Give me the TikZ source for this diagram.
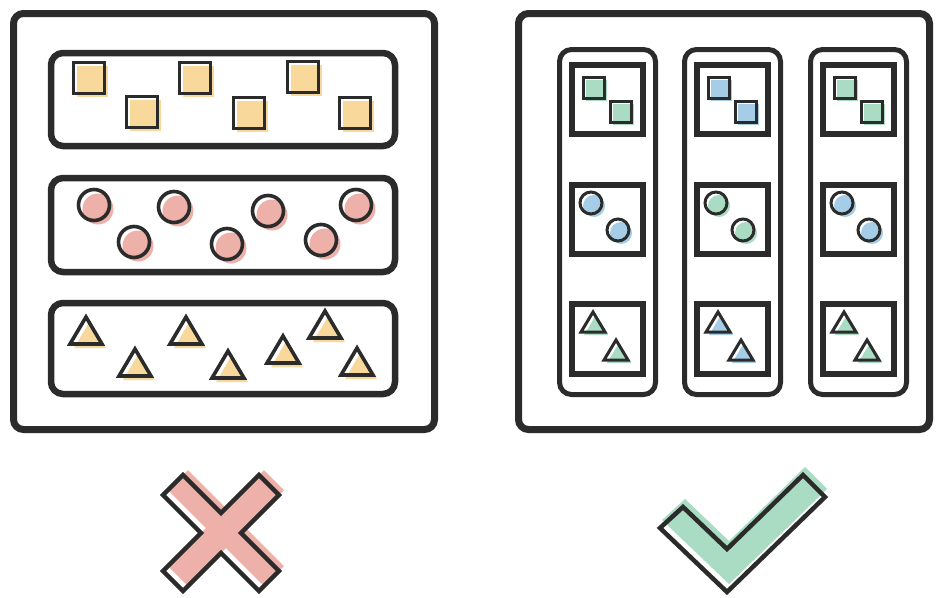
\documentclass[tikz,border=0pt]{standalone}
\definecolor{ink}{HTML}{2B2B2B}
\definecolor{yel}{HTML}{F9D99B}
\definecolor{pnk}{HTML}{EDB1AA}
\definecolor{grn}{HTML}{A9DCC2}
\definecolor{blu}{HTML}{A6CDE7}
\tikzset{
  bigbox/.style={draw=ink,line width=7pt,rounded corners=10pt},
  rowbox/.style={draw=ink,line width=6.5pt,rounded corners=12pt},
  colbox/.style={draw=ink,line width=5pt,rounded corners=12pt},
  cellbox/.style={draw=ink,line width=6pt},
  shp/.style={draw=ink,line width=3.6pt,line join=miter},
  sshp/.style={draw=ink,line width=3pt},
  signline/.style={draw=ink,line width=4.5pt,line join=miter}
}
\newcommand\bigsq[2]{\begin{scope}[shift={(#1,#2)}]\fill[yel] (-12,-12) rectangle (19,19);\draw[shp] (-15.5,-15.5) rectangle (15.5,15.5);\end{scope}}
\newcommand\bigci[2]{\begin{scope}[shift={(#1,#2)}]\fill[pnk] (4,4) circle (15.5);\draw[shp] (0,0) circle (15.5);\end{scope}}
\newcommand\bigtri[2]{\begin{scope}[shift={(#1,#2)}]\fill[yel] (4,-10) -- (-12,17) -- (20,17) -- cycle;\draw[shp] (0,-14) -- (-16,13) -- (16,13) -- cycle;\end{scope}}
\newcommand\smsq[3]{\begin{scope}[shift={(#1,#2)}]\fill[#3] (-7.5,-7.5) rectangle (13.5,13.5);\draw[sshp] (-10.5,-10.5) rectangle (10.5,10.5);\end{scope}}
\newcommand\smci[3]{\begin{scope}[shift={(#1,#2)}]\fill[#3] (3,3) circle (11);\draw[sshp] (0,0) circle (11);\end{scope}}
\newcommand\smtri[3]{\begin{scope}[shift={(#1,#2)}]\fill[#3] (3,-7) -- (-9,13) -- (15,13) -- cycle;\draw[sshp] (0,-10) -- (-12,10) -- (12,10) -- cycle;\end{scope}}
\newcommand\column[4]{\begin{scope}[shift={(#1,0)}]
  \draw[colbox] (2.5,49.5) rectangle (98.5,394.5);
  \draw[cellbox] (15,65) rectangle (86,134);
  \draw[cellbox] (15,185) rectangle (86,254);
  \draw[cellbox] (15,304) rectangle (86,374);
  \smsq{36.5}{87.5}{#2}\smsq{63.5}{111.5}{#2}
  \smci{34}{203}{#3}\smci{61}{230}{#3}
  \smtri{36}{322}{#4}\smtri{59}{350}{#4}
\end{scope}}
\begin{document}
\begin{tikzpicture}[x=1pt,y=-1pt]
\useasboundingbox (0,0) rectangle (936,597);
\fill[white] (0,0) rectangle (936,597);
% left panel
\draw[bigbox] (13.5,13.5) rectangle (434.5,429.5);
\draw[rowbox] (51,53) rectangle (395,146);
\draw[rowbox] (51,178) rectangle (395,272);
\draw[rowbox] (51,303) rectangle (395,394);
\foreach \x/\y in {89/78,142/112,195/78,249/113,303/77,355/113} {\bigsq{\x}{\y}}
\foreach \x/\y in {94/205,134/242,174/207,227/244,268/211,321/240,356/205} {\bigci{\x}{\y}}
\foreach \x/\y in {86/331,135/363,186/331,228/365,283/350,325/325,357/362} {\bigtri{\x}{\y}}
% right panel
\draw[bigbox] (518.5,13.5) rectangle (929.5,429.5);
\column{557}{grn}{blu}{grn}
\column{682}{blu}{grn}{blu}
\column{808}{grn}{blu}{grn}
% cross
\begin{scope}[shift={(221,533)}]
  \fill[pnk,shift={(5,-5)}] (0,-20) -- (38,-58) -- (58,-38) -- (20,0) -- (58,38) -- (38,58) -- (0,20) -- (-38,58) -- (-58,38) -- (-20,0) -- (-58,-38) -- (-38,-58) -- cycle;
  \draw[signline] (0,-20) -- (38,-58) -- (58,-38) -- (20,0) -- (58,38) -- (38,58) -- (0,20) -- (-38,58) -- (-58,38) -- (-20,0) -- (-58,-38) -- (-38,-58) -- cycle;
\end{scope}
% check
\fill[grn,shift={(2,-8)}] (660,528) -- (683,507) -- (727,549) -- (803,475) -- (825,497) -- (727,592) -- cycle;
\draw[signline] (660,528) -- (683,507) -- (727,549) -- (803,475) -- (825,497) -- (727,592) -- cycle;
\end{tikzpicture}
\end{document}
